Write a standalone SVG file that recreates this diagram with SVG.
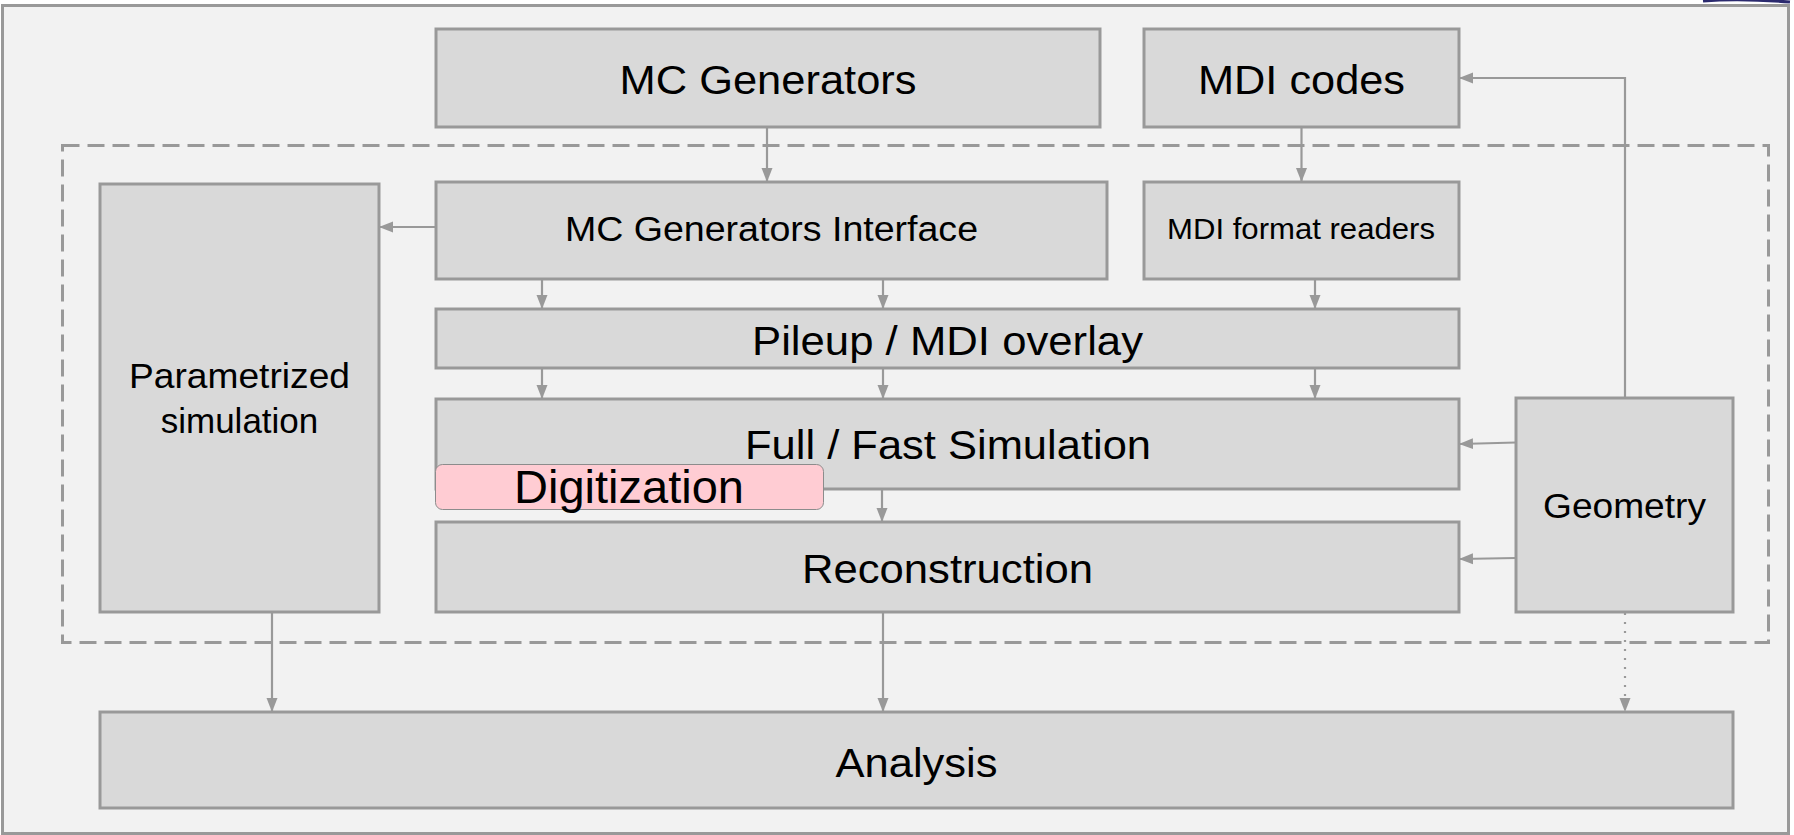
<svg xmlns="http://www.w3.org/2000/svg" width="1794" height="835" viewBox="0 0 1794 835">
<style>
.box{fill:#d9d9d9;stroke:#999999;stroke-width:3}
.t{font-family:"Liberation Sans",Arial,sans-serif;fill:#000;text-anchor:middle}
.c{stroke:#999999;stroke-width:2.2;fill:none}
</style>
<defs>
<marker id="ah" markerWidth="14" markerHeight="12" viewBox="0 0 14 12" refX="13" refY="6" orient="auto" markerUnits="userSpaceOnUse">
<path d="M0,0.5 L14,6 L0,11.5 Z" fill="#999999"/>
</marker>
</defs>
<rect x="0" y="0" width="1794" height="835" fill="#ffffff"/>
<path d="M1703,1 Q1740,-2 1790,2" stroke="#2b2a6e" stroke-width="3" fill="none"/>
<rect id="frame" x="2.5" y="5.5" width="1786" height="828" fill="#f2f2f2" stroke="#999999" stroke-width="3"/>
<rect id="container" x="62.5" y="145.5" width="1706" height="497" fill="none" stroke="#999999" stroke-width="3" stroke-dasharray="17 8"/>

<g id="connectors">
<path class="c" d="M767,127 V181" marker-end="url(#ah)"/>
<path class="c" d="M1301.5,127 V181" marker-end="url(#ah)"/>
<path class="c" d="M436,227 H380" marker-end="url(#ah)"/>
<path class="c" d="M542,279 V308" marker-end="url(#ah)"/>
<path class="c" d="M883,279 V308" marker-end="url(#ah)"/>
<path class="c" d="M1315,279 V308" marker-end="url(#ah)"/>
<path class="c" d="M542,368 V398" marker-end="url(#ah)"/>
<path class="c" d="M883,368 V398" marker-end="url(#ah)"/>
<path class="c" d="M1315,368 V398" marker-end="url(#ah)"/>
<path class="c" d="M882,489 V521" marker-end="url(#ah)"/>
<path class="c" d="M1516,442.5 L1460,444" marker-end="url(#ah)"/>
<path class="c" d="M1516,558 L1460,559" marker-end="url(#ah)"/>
<path class="c" d="M1625,398 V78 H1460" marker-end="url(#ah)"/>
<path class="c" d="M272,613 V711" marker-end="url(#ah)"/>
<path class="c" stroke-width="1.6" d="M883,613 V711" marker-end="url(#ah)"/>
<path class="c" stroke-dasharray="2 7" d="M1625,604 V711" marker-end="url(#ah)"/>
</g>

<g id="mc-generators">
<rect class="box" x="436" y="29" width="664" height="98"/>
<text class="t" x="768" y="94" font-size="41" textLength="297" lengthAdjust="spacingAndGlyphs">MC Generators</text>
</g>
<g id="mdi-codes">
<rect class="box" x="1144" y="29" width="315" height="98"/>
<text class="t" x="1301.5" y="94" font-size="41" textLength="207" lengthAdjust="spacingAndGlyphs">MDI codes</text>
</g>
<g id="param-sim">
<rect class="box" x="100" y="184" width="279" height="428"/>
<text class="t" x="239.5" y="388" font-size="35" textLength="221" lengthAdjust="spacingAndGlyphs">Parametrized</text>
<text class="t" x="239.5" y="433" font-size="35">simulation</text>
</g>
<g id="mc-gen-interface">
<rect class="box" x="436" y="182" width="671" height="97"/>
<text class="t" x="771.5" y="241" font-size="35.5" textLength="413" lengthAdjust="spacingAndGlyphs">MC Generators Interface</text>
</g>
<g id="mdi-format-readers">
<rect class="box" x="1144" y="182" width="315" height="97"/>
<text class="t" x="1301" y="239" font-size="29.5" textLength="268" lengthAdjust="spacingAndGlyphs">MDI format readers</text>
</g>
<g id="pileup">
<rect class="box" x="436" y="309" width="1023" height="59"/>
<text class="t" x="947.5" y="355" font-size="41" textLength="391" lengthAdjust="spacingAndGlyphs">Pileup / MDI overlay</text>
</g>
<g id="full-fast-sim">
<rect class="box" x="436" y="399" width="1023" height="90"/>
<text class="t" x="948" y="459" font-size="41" textLength="406" lengthAdjust="spacingAndGlyphs">Full / Fast Simulation</text>
</g>
<g id="reconstruction">
<rect class="box" x="436" y="522" width="1023" height="90"/>
<text class="t" x="947.5" y="583" font-size="41" textLength="291" lengthAdjust="spacingAndGlyphs">Reconstruction</text>
</g>
<g id="digitization">
<rect x="435.5" y="464.5" width="388" height="45" rx="7" fill="#ffccd3" stroke="#8c8c8c" stroke-width="1"/>
<text class="t" x="629" y="503" font-size="47">Digitization</text>
</g>
<g id="geometry">
<rect class="box" x="1516" y="398" width="217" height="214"/>
<text class="t" x="1624.5" y="518" font-size="35" textLength="163" lengthAdjust="spacingAndGlyphs">Geometry</text>
</g>
<g id="analysis">
<rect class="box" x="100" y="712" width="1633" height="96"/>
<text class="t" x="916.5" y="777" font-size="41" textLength="162" lengthAdjust="spacingAndGlyphs">Analysis</text>
</g>
</svg>
